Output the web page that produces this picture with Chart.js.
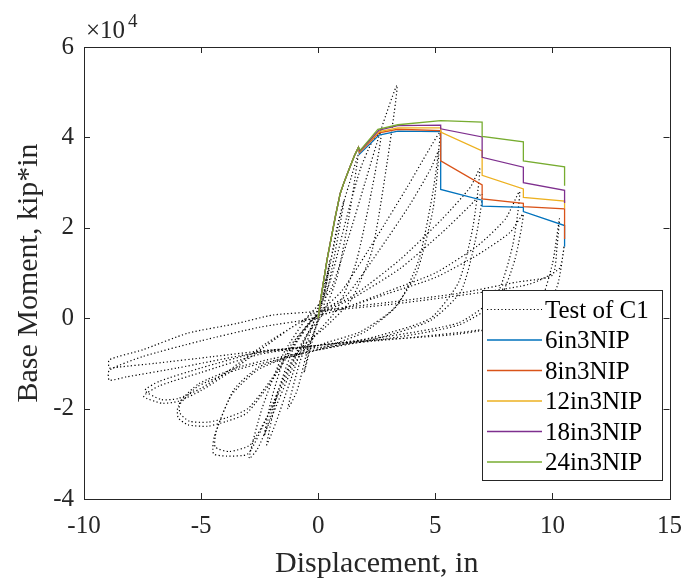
<!DOCTYPE html>
<html>
<head>
<meta charset="utf-8">
<script src="https://cdn.jsdelivr.net/npm/chart.js@4.4.1/dist/chart.umd.min.js"></script>
<style>
html, body { margin: 0; padding: 0; background: #fff; }
#wrap { width: 694px; height: 579px; }
</style>
</head>
<body>
<div id="wrap"><canvas id="chart" width="694" height="579"></canvas></div>
<script>
// axis ticks
const xTicks = [-10, -5, 0, 5, 10, 15]
const yTicks = [-40000, -20000, 0, 20000, 40000, 60000]

// test of C1 (cyclic), displacement in, moment kip*in
const testDisp = [
    0, 0.25, 0.5, 0.3, 0, -0.3, -0.6, -0.35, 0,
    0.4, 0.8, 1.1, 0.7, 0.2, -0.4, -0.9, -1.3, -0.8, -0.2,
    0.5, 1.0, 1.4, 1.7, 1.3, 0.8, 0.2, -0.5, -1.2, -1.8, -2.2, -1.7, -1.0, -0.2,
    0.5, 1.2, 1.8, 2.3, 2.7, 2.2, 1.6, 0.8, 0, -1.0, -2.0, -2.6, -2.95, -2.4, -1.5, -0.5,
    0.5, 1.3, 2.0, 2.7, 3.37, 2.9, 2.3, 1.4, 0.3, -0.8, -1.7, -2.3, -2.0, -1.3,
    0, 1.0, 2.5, 3.8, 4.7, 5.2, 4.9, 4.3, 3.4, 2.0, 0.5, -0.8, -2.5, -3.6, -4.44, -4.47, -3.9, -3.0, -2.2, -1.2, -0.3,
    0, 1.2, 2.6, 3.9, 4.8, 5.15, 4.9, 4.2, 3.2, 1.8, 0.3, -1.0, -2.6, -3.7, -4.35, -4.4, -3.8, -2.9, -2.0, -1.0, -0.2,
    0, 1.5, 3.5, 5.3, 6.5, 6.9, 6.6, 6.0, 4.8, 2.5, 0, -2.0, -3.47, -5.14, -5.98, -5.98, -5.56, -4.72, -3.9, -3.05, -2.0, -0.9, -0.2,
    1.5, 3.5, 5.3, 6.5, 7.0, 6.7, 6.1, 4.8, 2.5, 0, -2.0, -3.5, -5.1, -5.9, -5.9, -5.5, -4.7, -3.9, -3.0, -2.0, -0.9, -0.2,
    1.0, 3.0, 5.0, 6.8, 8.0, 8.6, 8.3, 7.6, 6.0, 3.0, 0, -2.5, -5.0, -6.8, -7.45, -6.68, -5.98, -5.0, -3.8, -2.2, -0.8,
    1.0, 3.0, 5.0, 6.8, 8.2, 8.75, 8.4, 7.7, 6.0, 3.0, 0, -2.5, -5.0, -6.8, -7.4, -6.7, -6.0, -5.0, -3.8, -2.2, -0.8,
    0, 3.0, 6.0, 8.5, 10.0, 10.2, 10.3, 10.0, 9.4, 7.5, 4.5, 1.5, 0, -2.0, -4.5, -7.0, -8.5, -8.92, -8.92, -7.5, -5.56, -3.5, -1.93, 0,
    3.0, 6.0, 9.0, 10.3, 10.5, 10.2, 9.3, 6.0, 2.0, 0, -3.0, -6.0, -8.2, -8.92, -8.92, -7.5, -5.0, -2.5, 0
]
const testMoment = [
    0, 6000, 13000, 6000, 0, -6000, -12000, -6000, 0,
    9000, 20000, 26000, 14000, 2000, -6000, -16000, -20000, -10000, -1000,
    12000, 24000, 31000, 36000, 22000, 9000, 1000, -4000, -14000, -23000, -28000, -16000, -6000, 0,
    8000, 22000, 33000, 39000, 41000, 26000, 12000, 2000, -3000, -10000, -22000, -29000, -31000, -20000, -8000, 0,
    6000, 18000, 30000, 42000, 51500, 33000, 15000, 4000, -2000, -7000, -16000, -26000, -18000, -7000,
    1000, 6000, 18000, 29000, 37000, 41000, 28000, 13000, 3000, -3000, -6000, -8000, -10700, -15800, -26200, -30000, -30500, -30000, -22000, -10000, -2000,
    1000, 5000, 15000, 25000, 33000, 37000, 24000, 10000, 2000, -3000, -5500, -8000, -11500, -17000, -25000, -28500, -29500, -28000, -20000, -9000, -1000,
    1000, 5000, 13000, 22000, 29000, 33000, 20000, 8000, 0, -4000, -7000, -9500, -11400, -15100, -19500, -22000, -23600, -23900, -22800, -21000, -14000, -5000, 0,
    4500, 11000, 19000, 25000, 27500, 17000, 6000, -500, -4500, -7000, -9000, -11000, -14500, -18500, -21000, -22800, -23000, -22000, -20000, -13500, -4500, 0,
    2000, 6000, 10000, 16000, 22000, 28000, 16000, 5000, -1000, -4000, -6000, -8000, -12000, -15000, -17300, -18800, -18400, -16000, -12000, -6000, -1000,
    2000, 5500, 9000, 14000, 19000, 23000, 13000, 4000, -1500, -4500, -6000, -7500, -11000, -14000, -16000, -18000, -17800, -15500, -11500, -5500, -1000,
    1500, 3500, 5500, 8000, 9500, 16000, 22000, 12000, 3000, -2000, -4000, -5500, -6500, -7000, -8500, -10000, -10800, -11000, -9200, -7000, -3300, -1200, 700, 1500,
    3000, 5000, 7500, 11000, 16000, 7000, 0, -3500, -5000, -6000, -8000, -11000, -13000, -13700, -11500, -8500, -5000, -2000, 0
]

// common elastic branch of the NIP models
const backboneDisp = [0, 0.1, 0.38, 0.73, 0.94, 1.1, 1.36, 1.55, 1.72]
const backboneMoment = [0, 4000, 13000, 22400, 27600, 30000, 33500, 36000, 37800]

const disp6 = [1.76, 2.6, 3.4, 5.23, 5.23, 7.0, 7.0, 8.76, 8.76, 10.52, 10.52]
const moment6 = [36300, 40500, 41400, 41300, 28500, 26100, 24800, 24500, 23600, 20500, 15800]
const disp8 = [1.76, 2.6, 3.4, 5.23, 5.23, 7.0, 7.0, 8.76, 8.76, 10.52, 10.52]
const moment8 = [36600, 41000, 41800, 41500, 34800, 29500, 26400, 25400, 24700, 24200, 17500]
const disp12 = [1.76, 2.6, 3.4, 5.23, 5.23, 7.0, 7.0, 8.76, 8.76, 10.52, 10.52]
const moment12 = [36800, 41300, 42100, 42100, 41200, 37000, 31600, 28600, 26700, 25900, 24300]
const disp18 = [1.78, 2.6, 3.4, 5.23, 5.23, 7.0, 7.0, 8.76, 8.76, 10.52, 10.52]
const moment18 = [37000, 41600, 42600, 42700, 41900, 40100, 35600, 33400, 30000, 28300, 25500]
const disp24 = [1.8, 2.55, 3.4, 5.23, 7.0, 7.0, 8.76, 8.76, 10.52, 10.52]
const moment24 = [37200, 41800, 42800, 43700, 43400, 40200, 39000, 34800, 33500, 29300]

const labels = ['Test of C1', '6in3NIP', '8in3NIP', '12in3NIP', '18in3NIP', '24in3NIP']
const colors = ['#000000', '#0072BD', '#D95319', '#EDB120', '#7E2F8E', '#77AC30']

const serif = "'Liberation Serif', 'Times New Roman', serif"
const ink = '#262626'

function pts(xs, ys) {
    return xs.map((x, i) => ({ x, y: ys[i] }))
}

function nip(xs, ys) {
    return pts(backboneDisp.concat(xs), backboneMoment.concat(ys))
}

const series = [
    pts(testDisp, testMoment),
    nip(disp6, moment6),
    nip(disp8, moment8),
    nip(disp12, moment12),
    nip(disp18, moment18),
    nip(disp24, moment24)
]

// box, inward ticks, titles, exponent and legend drawn MATLAB style
const frame = {
    id: 'frame',
    afterDraw(chart) {
        const { ctx, chartArea: a, scales: { x, y } } = chart
        ctx.save()
        ctx.strokeStyle = ink
        ctx.lineWidth = 1
        ctx.strokeRect(Math.round(a.left) + 0.5, Math.round(a.top) + 0.5,
            Math.round(a.right - a.left), Math.round(a.bottom - a.top))
        ctx.beginPath()
        xTicks.forEach(v => {
            const px = Math.round(x.getPixelForValue(v)) + 0.5
            ctx.moveTo(px, a.bottom); ctx.lineTo(px, a.bottom - 6)
            ctx.moveTo(px, a.top); ctx.lineTo(px, a.top + 6)
        })
        yTicks.forEach(v => {
            const py = Math.round(y.getPixelForValue(v)) + 0.5
            ctx.moveTo(a.left, py); ctx.lineTo(a.left + 6, py)
            ctx.moveTo(a.right, py); ctx.lineTo(a.right - 6, py)
        })
        ctx.stroke()

        ctx.fillStyle = ink
        ctx.textAlign = 'center'
        ctx.textBaseline = 'alphabetic'
        ctx.font = `30px ${serif}`
        ctx.fillText('Displacement, in', (a.left + a.right) / 2, 572)
        ctx.save()
        ctx.translate(37, (a.top + a.bottom) / 2)
        ctx.rotate(-Math.PI / 2)
        ctx.fillText('Base Moment, kip*in', 0, 0)
        ctx.restore()

        ctx.textAlign = 'left'
        ctx.font = `25px ${serif}`
        ctx.fillText('\u00d710', 86, 38)
        ctx.font = `19px ${serif}`
        ctx.fillText('4', 128, 27)

        // legend
        const lx = 482, ly = 290, lw = 180, lh = 190
        ctx.fillStyle = '#fff'
        ctx.fillRect(lx, ly, lw, lh)
        ctx.strokeStyle = ink
        ctx.strokeRect(lx + 0.5, ly + 0.5, lw, lh)
        ctx.font = `25px ${serif}`
        labels.forEach((lab, i) => {
            const ry = ly + 19.5 + i * 30.5
            ctx.beginPath()
            ctx.strokeStyle = colors[i]
            ctx.lineWidth = i === 0 ? 1.2 : 1.3
            ctx.setLineDash(i === 0 ? [1.2, 2.4] : [])
            ctx.moveTo(lx + 5, ry); ctx.lineTo(lx + 60, ry)
            ctx.stroke()
            ctx.setLineDash([])
            ctx.fillStyle = '#000'
            ctx.fillText(lab, lx + 63, ry + 8)
        })
        ctx.restore()
    }
}

new Chart(document.getElementById('chart'), {
    type: 'scatter',
    data: {
        datasets: series.map((data, i) => ({
            label: labels[i],
            data,
            showLine: true,
            borderColor: colors[i],
            borderWidth: i === 0 ? 1.2 : 1.3,
            borderDash: i === 0 ? [1.2, 2.4] : [],
            tension: i === 0 ? 0.2 : 0,
            pointRadius: 0,
            fill: false,
            order: 5 - i
        }))
    },
    options: {
        responsive: false,
        animation: false,
        layout: { padding: { top: 47, right: 14, left: 0, bottom: 0 } },
        plugins: { legend: { display: false }, tooltip: { enabled: false } },
        scales: {
            x: {
                type: 'linear', min: -10, max: 15,
                afterFit: s => { s.height = 80 },
                afterBuildTicks: s => { s.ticks = xTicks.map(v => ({ value: v })) },
                grid: { display: false, drawTicks: false },
                border: { display: false },
                ticks: { color: ink, padding: 12, font: { family: serif, size: 25 } }
            },
            y: {
                type: 'linear', min: -40000, max: 60000,
                afterFit: s => { s.width = 84 },
                afterBuildTicks: s => { s.ticks = yTicks.map(v => ({ value: v })) },
                grid: { display: false, drawTicks: false },
                border: { display: false },
                ticks: { color: ink, padding: 10, font: { family: serif, size: 25 },
                    callback: v => v / 10000 }
            }
        }
    },
    plugins: [frame]
})
</script>
</body>
</html>
